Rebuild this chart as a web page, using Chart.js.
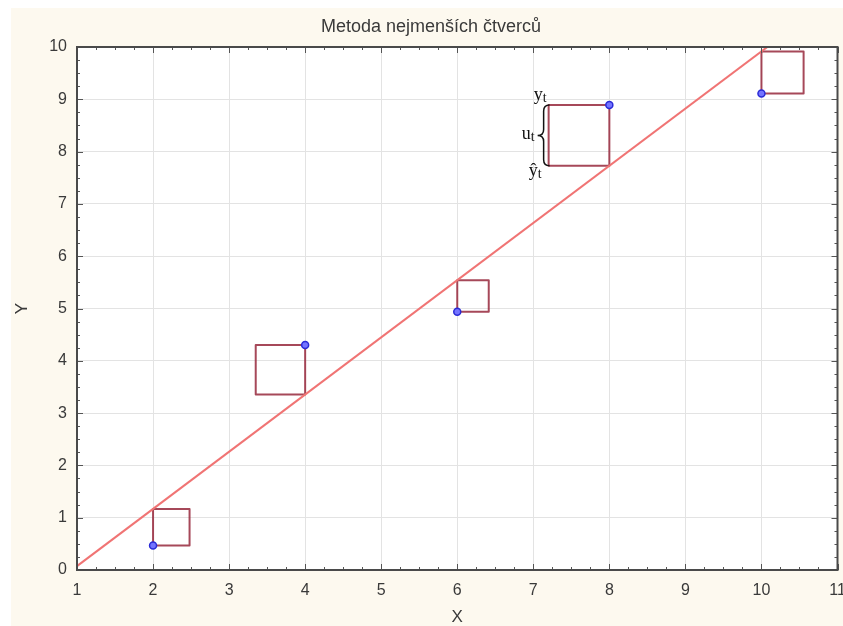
<!DOCTYPE html>
<html>
<head>
<meta charset="utf-8">
<script src="https://cdn.jsdelivr.net/npm/chart.js@4.4.1/dist/chart.umd.min.js"></script>
<style>
  html, body { margin: 0; padding: 0; background: #ffffff; }
  #wrap { width: 843px; height: 626px; }
  canvas { display: block; }
</style>
</head>
<body>
<div id="wrap"><canvas id="c" width="843" height="626"></canvas></div>
<script>
// Observed points
const xValues = [2, 4, 6, 8, 10];
const yValues = [0.47, 4.30, 4.94, 8.89, 9.11];

// Axis ranges and tick labels
const xTickLabels = [1, 2, 3, 4, 5, 6, 7, 8, 9, 10, 11];
const yTickLabels = [0, 1, 2, 3, 4, 5, 6, 7, 8, 9, 10];

const chartTitle = 'Metoda nejmenších čtverců';
const xAxisTitle = 'X';
const yAxisTitle = 'Y';

// Point whose residual gets the y_t / u_t / ŷ_t annotation
const annotatedIndex = 3;

// Ordinary least squares fit y = a + b x
function leastSquares(xs, ys) {
  const n = xs.length;
  const mx = xs.reduce((s, v) => s + v, 0) / n;
  const my = ys.reduce((s, v) => s + v, 0) / n;
  let sxy = 0, sxx = 0;
  for (let i = 0; i < n; i++) {
    sxy += (xs[i] - mx) * (ys[i] - my);
    sxx += (xs[i] - mx) * (xs[i] - mx);
  }
  const b = sxy / sxx;
  return { a: my - b * mx, b: b };
}
const fit = leastSquares(xValues, yValues);
const fitted = xValues.map(x => fit.a + fit.b * x);

const xMin = xTickLabels[0], xMax = xTickLabels[xTickLabels.length - 1];
const yMin = yTickLabels[0], yMax = yTickLabels[yTickLabels.length - 1];

const pointData = xValues.map((x, i) => ({ x: x, y: yValues[i] }));
const lineData = [xMin, xMax].map(x => ({ x: x, y: fit.a + fit.b * x }));

const TEXT_COLOR = '#3a3a3a';
const CREAM = '#fdf9ef';

// Page background, white plot area
const backgroundPlugin = {
  id: 'background',
  beforeDraw(chart) {
    const ctx = chart.ctx;
    const a = chart.chartArea;
    ctx.save();
    ctx.fillStyle = '#ffffff';
    ctx.fillRect(0, 0, chart.width, chart.height);
    ctx.fillStyle = CREAM;
    ctx.fillRect(11, 8, chart.width - 11, chart.height - 8);
    ctx.fillStyle = '#ffffff';
    ctx.fillRect(a.left, a.top, a.right - a.left, a.bottom - a.top);
    ctx.restore();
  }
};

// Squares built on each residual, on the point's side of the fitted line
const residualSquaresPlugin = {
  id: 'residualSquares',
  beforeDatasetsDraw(chart) {
    const ctx = chart.ctx;
    const xs = chart.scales.x, ys = chart.scales.y;
    const a = chart.chartArea;
    ctx.save();
    ctx.beginPath();
    ctx.rect(a.left, a.top - 1, a.right - a.left, a.bottom - a.top + 1);
    ctx.clip();
    ctx.strokeStyle = 'rgba(150, 40, 60, 0.85)';
    ctx.lineWidth = 2;
    ctx.lineJoin = 'round';
    xValues.forEach((x, i) => {
      const px = xs.getPixelForValue(x);
      const py = ys.getPixelForValue(yValues[i]);
      const pf = ys.getPixelForValue(fitted[i]);
      const side = Math.abs(py - pf);
      const dir = yValues[i] < fitted[i] ? 1 : -1;
      const left = dir > 0 ? px : px - side;
      ctx.strokeRect(left, Math.min(py, pf), side, side);
    });
    ctx.restore();
  }
};

function drawSubscripted(ctx, base, sub, right, baseline) {
  const baseFont = '18px "Liberation Serif", "DejaVu Serif", serif';
  const subFont = '14px "Liberation Serif", "DejaVu Serif", serif';
  ctx.font = baseFont;
  const wb = ctx.measureText(base).width;
  ctx.font = subFont;
  const ws = ctx.measureText(sub).width;
  const left = right - wb - ws;
  ctx.textAlign = 'left';
  ctx.textBaseline = 'alphabetic';
  ctx.font = baseFont;
  ctx.fillText(base, left, baseline);
  ctx.font = subFont;
  ctx.fillText(sub, left + wb, baseline + 2);
}

// Frame, inward ticks, titles and residual annotation
const framePlugin = {
  id: 'frame',
  afterDraw(chart) {
    const ctx = chart.ctx;
    const a = chart.chartArea;
    const xs = chart.scales.x, ys = chart.scales.y;
    ctx.save();

    // inward major and minor ticks on all four sides
    ctx.strokeStyle = '#555555';
    ctx.lineWidth = 1;
    ctx.beginPath();
    const minorSteps = 4;
    for (let v = xMin; v <= xMax + 1e-9; v += 1 / minorSteps) {
      const major = Math.abs(v - Math.round(v)) < 1e-6;
      const len = major ? 6 : 3;
      const px = Math.round(xs.getPixelForValue(v)) + 0.5;
      ctx.moveTo(px, a.bottom); ctx.lineTo(px, a.bottom - len);
      ctx.moveTo(px, a.top); ctx.lineTo(px, a.top + len);
    }
    for (let v = yMin; v <= yMax + 1e-9; v += 1 / minorSteps) {
      const major = Math.abs(v - Math.round(v)) < 1e-6;
      const len = major ? 6 : 3;
      const py = Math.round(ys.getPixelForValue(v)) + 0.5;
      ctx.moveTo(a.left, py); ctx.lineTo(a.left + len, py);
      ctx.moveTo(a.right, py); ctx.lineTo(a.right - len, py);
    }
    ctx.stroke();

    // frame
    ctx.strokeStyle = '#4a4a4a';
    ctx.lineWidth = 2;
    ctx.strokeRect(a.left, a.top, a.right - a.left, a.bottom - a.top);

    // titles
    ctx.fillStyle = TEXT_COLOR;
    ctx.textAlign = 'center';
    ctx.textBaseline = 'middle';
    ctx.font = '18px "Liberation Sans", Arial, sans-serif';
    ctx.fillText(chartTitle, 431, 27);
    ctx.font = '17px "Liberation Sans", Arial, sans-serif';
    ctx.fillText(xAxisTitle, (a.left + a.right) / 2, 617);
    ctx.save();
    ctx.translate(22, (a.top + a.bottom) / 2);
    ctx.rotate(-Math.PI / 2);
    ctx.fillText(yAxisTitle, 0, 0);
    ctx.restore();

    // brace with y_t, u_t and ŷ_t labels beside the annotated square
    const i = annotatedIndex;
    const px = xs.getPixelForValue(xValues[i]);
    const pyObs = ys.getPixelForValue(yValues[i]);
    const pyFit = ys.getPixelForValue(fitted[i]);
    const side = Math.abs(pyObs - pyFit);
    const dir = yValues[i] < fitted[i] ? 1 : -1;
    const sqLeft = dir > 0 ? px : px - side;
    const yT = Math.min(pyObs, pyFit), yB = Math.max(pyObs, pyFit);
    const ym = (yT + yB) / 2;
    const xr = sqLeft + 1;
    const xsStem = xr - 6;
    const xt = xr - 12;
    ctx.strokeStyle = '#111111';
    ctx.lineWidth = 1.5;
    ctx.beginPath();
    ctx.moveTo(xr, yT);
    ctx.quadraticCurveTo(xsStem, yT, xsStem, yT + 6);
    ctx.lineTo(xsStem, ym - 6);
    ctx.quadraticCurveTo(xsStem, ym, xt, ym);
    ctx.quadraticCurveTo(xsStem, ym, xsStem, ym + 6);
    ctx.lineTo(xsStem, yB - 6);
    ctx.quadraticCurveTo(xsStem, yB, xr, yB);
    ctx.stroke();

    ctx.fillStyle = '#111111';
    drawSubscripted(ctx, 'y', 't', xr - 3, yT - 5);
    drawSubscripted(ctx, 'u', 't', xt - 3, ym + 4);
    drawSubscripted(ctx, 'ŷ', 't', xr - 8, yB + 10);

    ctx.restore();
  }
};

const tickFont = { family: '"Liberation Sans", Arial, sans-serif', size: 16 };

new Chart(document.getElementById('c'), {
  type: 'scatter',
  data: {
    datasets: [
      {
        type: 'line',
        label: 'fit',
        data: lineData,
        borderColor: '#f07474',
        borderWidth: 2,
        pointRadius: 0,
        fill: false,
        order: 2
      },
      {
        label: 'data',
        data: pointData,
        pointRadius: 3.5,
        pointBackgroundColor: '#7474ff',
        pointBorderColor: '#2b2bd6',
        pointBorderWidth: 1.5,
        order: 1
      }
    ]
  },
  options: {
    responsive: false,
    devicePixelRatio: 1,
    animation: false,
    layout: { padding: { left: 10, right: 5, top: 47, bottom: 0 } },
    plugins: {
      legend: { display: false },
      tooltip: { enabled: false },
      title: { display: false }
    },
    scales: {
      x: {
        type: 'linear',
        min: xMin,
        max: xMax,
        afterBuildTicks(scale) { scale.ticks = xTickLabels.map(v => ({ value: v })); },
        ticks: { font: tickFont, color: TEXT_COLOR, padding: 11, maxRotation: 0 },
        grid: { color: '#e3e3e3', lineWidth: 1, drawTicks: false },
        border: { display: false },
        afterFit(scale) { scale.height = 56; scale.paddingLeft = 0; scale.paddingRight = 0; }
      },
      y: {
        type: 'linear',
        min: yMin,
        max: yMax,
        afterBuildTicks(scale) { scale.ticks = yTickLabels.map(v => ({ value: v })); },
        ticks: { font: tickFont, color: TEXT_COLOR, padding: 10 },
        grid: { color: '#e3e3e3', lineWidth: 1, drawTicks: false },
        border: { display: false },
        afterFit(scale) { scale.width = 67; scale.paddingTop = 0; scale.paddingBottom = 0; }
      }
    }
  },
  plugins: [backgroundPlugin, residualSquaresPlugin, framePlugin]
});
</script>
</body>
</html>
